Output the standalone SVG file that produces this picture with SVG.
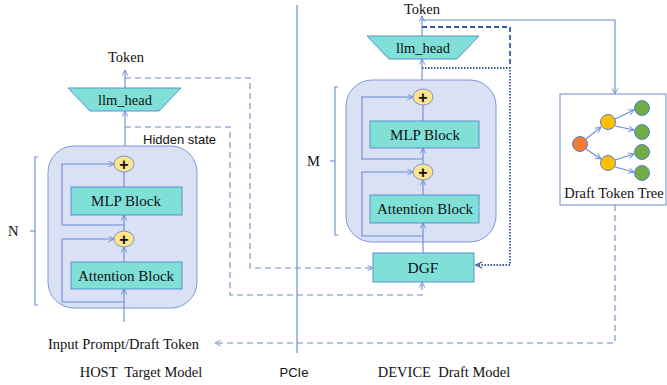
<svg xmlns="http://www.w3.org/2000/svg" width="667" height="385" viewBox="0 0 667 385">
<defs>
<marker id="ah" viewBox="0 0 10 10" refX="9" refY="5" markerWidth="7" markerHeight="7" orient="auto-start-reverse" markerUnits="userSpaceOnUse">
<path d="M1,1 L9,5 L1,9" fill="none" stroke="#6a8bd4" stroke-width="1.3"/>
</marker>
<marker id="ahd" viewBox="0 0 10 10" refX="9" refY="5" markerWidth="8" markerHeight="8" orient="auto" markerUnits="userSpaceOnUse">
<path d="M1,1 L9,5 L1,9" fill="none" stroke="#3b5a9c" stroke-width="1.6"/>
</marker>
</defs>
<style>
.serif{font-family:"Liberation Serif","Times New Roman",serif;fill:#111}
.sans{font-family:"Liberation Sans",Arial,sans-serif;fill:#111}
.outer{fill:#dae1f4;stroke:#7e97d9;stroke-width:1}
.blk{fill:#80e0d8;stroke:#5a8fcf;stroke-width:1}
.plus{fill:#fde38c;stroke:#7d93d4;stroke-width:1}
.ln{fill:none;stroke:#6a8bd4;stroke-width:1.1}
.dash{fill:none;stroke:#7189c9;stroke-width:1.1;stroke-dasharray:6,4}
.ddash{fill:none;stroke:#3b5a9c;stroke-width:1.8;stroke-dasharray:5,3}
.dot{fill:none;stroke:#3b5a9c;stroke-width:1.8;stroke-dasharray:1.5,1.5}
.tn{stroke:#5b7fc8;stroke-width:1}
</style>

<g id="host-outer"><rect class="outer" x="48" y="146" width="149" height="162" rx="26"/></g>
<g id="dev-outer"><rect class="outer" x="346" y="80" width="150" height="162" rx="26"/></g>

<g id="connectors">
<!-- host -->
<line class="ln" x1="125" y1="88" x2="125" y2="70" marker-end="url(#ah)"/>
<line class="ln" x1="125" y1="146" x2="125" y2="111" marker-end="url(#ah)"/>
<line class="ln" x1="124" y1="322" x2="124" y2="289" marker-end="url(#ah)"/>
<line class="ln" x1="124" y1="262" x2="124" y2="247" marker-end="url(#ah)"/>
<line class="ln" x1="124" y1="231" x2="124" y2="215" marker-end="url(#ah)"/>
<line class="ln" x1="124" y1="187" x2="124" y2="172"/>
<polyline class="ln" points="124,225 62,225 62,164 114,164" marker-end="url(#ah)"/>
<polyline class="ln" points="124,302 62,302 62,239 114,239" marker-end="url(#ah)"/>
<polyline class="dash" points="125,78 250,78 250,268 373,268" marker-end="url(#ah)"/>
<polyline class="dash" points="125,127 230,127 230,295 422,295 422,282" marker-end="url(#ah)"/>
<polyline class="dash" points="615,205 615,343 215,343" marker-end="url(#ah)"/>
<!-- brackets -->
<polyline class="ln" points="38,157 35,157 35,305 38,305"/>
<line class="ln" x1="35" y1="231" x2="30" y2="231"/>
<polyline class="ln" points="338,87 335,87 335,235 338,235"/>
<line class="ln" x1="335" y1="161" x2="330" y2="161"/>
<!-- PCIe -->
<line x1="297" y1="5" x2="297" y2="353" stroke="#6a8bd4" stroke-width="1.2"/>
<!-- device -->
<line class="ln" x1="422" y1="36" x2="422" y2="16" marker-end="url(#ah)"/>
<line class="ln" x1="422" y1="80" x2="422" y2="59" marker-end="url(#ah)"/>
<line class="ln" x1="423" y1="253" x2="423" y2="223" marker-end="url(#ah)"/>
<line class="ln" x1="423" y1="195" x2="423" y2="180" marker-end="url(#ah)"/>
<line class="ln" x1="423" y1="164" x2="423" y2="148" marker-end="url(#ah)"/>
<line class="ln" x1="423" y1="121" x2="423" y2="105"/>
<polyline class="ln" points="423,159 362,159 362,97 413,97" marker-end="url(#ah)"/>
<polyline class="ln" points="423,236 362,236 362,172 413,172" marker-end="url(#ah)"/>
<polyline class="ln" points="422,20 615,20 615,94" marker-end="url(#ah)"/>
<polyline class="ddash" points="422,27 510,27 510,68"/>
<polyline class="dot" points="422,68 510,68 510,265 476,265" marker-end="url(#ahd)"/>
</g>

<g id="host-llm-head">
<polygon class="blk" points="68,88 181,88 159,111 90,111"/>
<text class="serif" x="125" y="105" font-size="14.5" text-anchor="middle">llm_head</text>
</g>
<g id="host-plus1"><ellipse class="plus" cx="124" cy="164" rx="10" ry="8"/><text class="sans" x="124" y="169.5" font-size="16" font-weight="bold" text-anchor="middle">+</text></g>
<g id="host-mlp"><rect class="blk" x="71" y="187" width="111" height="28"/><text class="serif" x="126" y="206" font-size="15" text-anchor="middle">MLP Block</text></g>
<g id="host-plus2"><ellipse class="plus" cx="124" cy="239" rx="10" ry="8"/><text class="sans" x="124" y="244.5" font-size="16" font-weight="bold" text-anchor="middle">+</text></g>
<g id="host-attn"><rect class="blk" x="71" y="262" width="111" height="27"/><text class="serif" x="126" y="281" font-size="15" text-anchor="middle">Attention Block</text></g>

<g id="dev-llm-head">
<polygon class="blk" points="367,36 479,36 457,59 389,59"/>
<text class="serif" x="423" y="53" font-size="14.5" text-anchor="middle">llm_head</text>
</g>
<g id="dev-plus1"><ellipse class="plus" cx="423" cy="97" rx="10" ry="8"/><text class="sans" x="423" y="102.5" font-size="16" font-weight="bold" text-anchor="middle">+</text></g>
<g id="dev-mlp"><rect class="blk" x="370" y="121" width="109" height="27"/><text class="serif" x="425" y="140" font-size="15" text-anchor="middle">MLP Block</text></g>
<g id="dev-plus2"><ellipse class="plus" cx="423" cy="172" rx="10" ry="8"/><text class="sans" x="423" y="177.5" font-size="16" font-weight="bold" text-anchor="middle">+</text></g>
<g id="dev-attn"><rect class="blk" x="370" y="195" width="109" height="28"/><text class="serif" x="425" y="214" font-size="15" text-anchor="middle">Attention Block</text></g>
<g id="dgf"><rect class="blk" x="373" y="253" width="101" height="29"/><text class="serif" x="423" y="273" font-size="15.5" text-anchor="middle">DGF</text></g>

<g id="draft-token-tree">
<rect x="560" y="94" width="106" height="111" fill="#fff" stroke="#6a8bd4" stroke-width="1"/>
<line class="ln" x1="586" y1="139" x2="601" y2="127" marker-end="url(#ah)"/>
<line class="ln" x1="586" y1="149" x2="601" y2="159" marker-end="url(#ah)"/>
<line class="ln" x1="615" y1="119" x2="634" y2="110" marker-end="url(#ah)"/>
<line class="ln" x1="615" y1="126" x2="634" y2="130" marker-end="url(#ah)"/>
<line class="ln" x1="615" y1="160" x2="634" y2="154" marker-end="url(#ah)"/>
<line class="ln" x1="615" y1="167" x2="634" y2="172" marker-end="url(#ah)"/>
<circle class="tn" cx="580" cy="144" r="7.5" fill="#ed7d31"/>
<circle class="tn" cx="608" cy="122" r="7.5" fill="#ffc000"/>
<circle class="tn" cx="608" cy="163" r="7.5" fill="#ffc000"/>
<circle class="tn" cx="642" cy="108" r="7.5" fill="#70ad47"/>
<circle class="tn" cx="642" cy="132" r="7.5" fill="#70ad47"/>
<circle class="tn" cx="642" cy="152" r="7.5" fill="#70ad47"/>
<circle class="tn" cx="642" cy="173" r="7.5" fill="#70ad47"/>
<text class="serif" x="614" y="198" font-size="14.5" text-anchor="middle">Draft Token Tree</text>
</g>

<g id="labels">
<text class="serif" x="126" y="62" font-size="14.5" text-anchor="middle">Token</text>
<text class="serif" x="422" y="14" font-size="14.5" text-anchor="middle">Token</text>
<text class="sans" x="143" y="144" font-size="13">Hidden state</text>
<text class="serif" x="8" y="236" font-size="14.5">N</text>
<text class="serif" x="307" y="166" font-size="14.5">M</text>
<text class="serif" x="48" y="349" font-size="14.5">Input Prompt/Draft Token</text>
<text class="serif" x="141" y="377" font-size="14.5" text-anchor="middle" xml:space="preserve">HOST  Target Model</text>
<text class="sans" x="294" y="377" font-size="13" text-anchor="middle">PCIe</text>
<text class="serif" x="444" y="377" font-size="14.5" text-anchor="middle" xml:space="preserve">DEVICE  Draft Model</text>
</g>
</svg>
